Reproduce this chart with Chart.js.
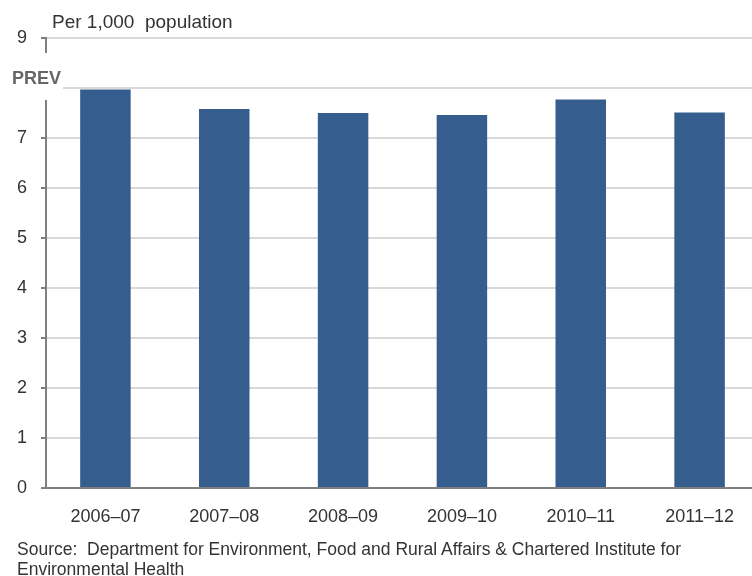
<!DOCTYPE html>
<html>
<head>
<meta charset="utf-8">
<script src="https://cdn.jsdelivr.net/npm/chart.js@4/dist/chart.umd.min.js"></script>
<style>
  html, body { margin: 0; padding: 0; background: #fff; overflow: hidden; width: 752px; height: 576px; }
  #wrap { position: absolute; left: 0; top: 0; width: 759px; height: 576px; }
  .txt { position: absolute; font-family: "Liberation Sans", Arial, sans-serif; color: #333; white-space: nowrap; }
  #title { left: 52px; top: 11px; font-size: 19px; line-height: 22px; }
  #source { left: 17px; top: 539px; font-size: 17.5px; line-height: 20px; }
</style>
</head>
<body>
<div id="wrap"><canvas id="c" width="759" height="576"></canvas></div>
<div id="title" class="txt">Per 1,000&nbsp; population</div>
<div id="source" class="txt">Source:&nbsp;&nbsp;Department for Environment, Food and Rural Affairs &amp; Chartered Institute for<br>Environmental Health</div>
<script>
const categories = ['2006–07', '2007–08', '2008–09', '2009–10', '2010–11', '2011–12'];
const values = [7.97, 7.58, 7.50, 7.46, 7.77, 7.51];
const yTickLabels = ['0', '1', '2', '3', '4', '5', '6', '7', '', '9'];
const breakLabel = 'PREV';

const breakPlugin = {
  id: 'breakLabel',
  afterDraw(chart) {
    const ctx = chart.ctx;
    const y = chart.scales.y;
    const yMid = (y.getPixelForValue(8) + y.getPixelForValue(9)) / 2 + 15;
    ctx.save();
    ctx.fillStyle = '#ffffff';
    ctx.fillRect(0, yMid - 25, 63, 47);
    ctx.fillStyle = '#666666';
    ctx.font = 'bold 18px "Liberation Sans", Arial, sans-serif';
    ctx.textAlign = 'left';
    ctx.textBaseline = 'middle';
    ctx.fillText(breakLabel, 12, yMid + 1);
    ctx.restore();
  }
};

new Chart(document.getElementById('c'), {
  type: 'bar',
  data: {
    labels: categories,
    datasets: [{
      data: values,
      backgroundColor: '#355E8F',
      borderWidth: 0,
      barPercentage: 0.425,
      categoryPercentage: 1.0
    }]
  },
  options: {
    responsive: false,
    animation: false,
    layout: { padding: { top: 38, bottom: 48, left: 0, right: 0 } },
    plugins: { legend: { display: false }, tooltip: { enabled: false }, title: { display: false } },
    scales: {
      x: {
        grid: { display: false, drawTicks: false },
        border: { color: '#808080', width: 2 },
        ticks: {
          color: '#333',
          padding: 18,
          font: { family: '"Liberation Sans", Arial, sans-serif', size: 18 }
        },
        afterFit(s) { s.height = 40; }
      },
      y: {
        min: 0,
        max: 9,
        grid: { color: '#d9d9d9', lineWidth: 2, tickColor: '#808080', tickLength: 5 },
        border: { color: '#808080', width: 2 },
        ticks: {
          stepSize: 1,
          padding: 14,
          color: '#333',
          font: { family: '"Liberation Sans", Arial, sans-serif', size: 18 },
          callback: (v) => yTickLabels[v]
        },
        afterFit(s) { s.width = 46; }
      }
    }
  },
  plugins: [breakPlugin]
});
</script>
</body>
</html>
